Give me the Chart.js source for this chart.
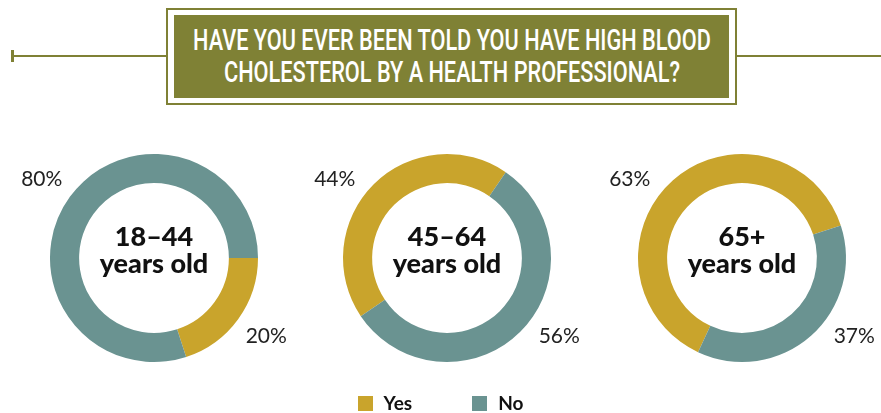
<!DOCTYPE html>
<html>
<head>
<meta charset="utf-8">
<script src="https://cdn.jsdelivr.net/npm/chart.js@4.4.1/dist/chart.umd.min.js"></script>
<style>
  html, body { margin: 0; padding: 0; background: #fff; }
  #page { position: relative; width: 881px; height: 413px; overflow: hidden; font-family: Lato, sans-serif; }
  .rule { position: absolute; top: 55px; height: 2px; background: #7f8135; }
  .tick { position: absolute; left: 11px; top: 50px; width: 3px; height: 12px; background: #7f8135; }
  #titleBox { position: absolute; left: 166px; top: 8px; width: 567px; height: 93px; border: 2px solid #7f8135; background: #fff; }
  #titleInner { position: absolute; left: 6px; top: 5px; right: 6px; bottom: 5px; background: #7f8135; }
  .tline { position: absolute; left: 50%; white-space: nowrap; color: #fff;
    font-family: Roboto, "Liberation Sans", sans-serif; font-weight: 500; font-size: 29px; line-height: 29px; transform-origin: 0 0; }
  .donut { position: absolute; top: 123px; }
  #legend { position: absolute; top: 391px; left: 0; width: 881px; text-align: center; font-size: 19px; color: #111; font-weight: 700; }
  #legend span.item { display: inline-block; margin: 0 30px; }
  #legend span.sw { display: inline-block; width: 15px; height: 15px; vertical-align: -1px; margin-right: 11px; }
</style>
</head>
<body>
<div id="page">
  <div class="rule" style="left:12px;width:156px"></div>
  <div class="tick"></div>
  <div class="rule" style="left:735px;width:146px"></div>
  <div id="titleBox"><div id="titleInner"></div></div>
  <canvas id="c0" class="donut" style="left:7px"></canvas>
  <canvas id="c1" class="donut" style="left:300px"></canvas>
  <canvas id="c2" class="donut" style="left:595px"></canvas>
  <div id="legend"></div>
</div>
<script>
// ---- data ----
const titleLines = ['HAVE YOU EVER BEEN TOLD YOU HAVE HIGH BLOOD', 'CHOLESTEROL BY A HEALTH PROFESSIONAL?'];
const categories = ['Yes', 'No'];
const colors = ['#c9a42c', '#6a9391'];
const groupLabels = [['18–44', 'years old'], ['45–64', 'years old'], ['65+', 'years old']];
const yesValues = [20, 44, 63];
const noValues = [80, 56, 37];
// angle (degrees clockwise from 12 o'clock) where the "Yes" slice starts
const startAngles = [90, 236, 205];

// angles where the percentage labels sit (top-left and bottom-right)
const LABEL_ANGLES = [305, 125];
const LABEL_DIST = 137;

// title: condensed look by squeezing a regular sans horizontally
const inner = document.getElementById('titleInner');
const tEls = titleLines.map((t, i) => {
  const el = document.createElement('div');
  el.className = 'tline';
  el.textContent = t;
  el.style.top = (i === 0 ? 11 : 43) + 'px';
  inner.appendChild(el);
  return el;
});
const squeeze = 518 / tEls[0].offsetWidth;
tEls.forEach(el => { el.style.transform = 'scaleX(' + squeeze + ') translateX(-50%)'; });

function norm(a) { a = a % 360; return a < 0 ? a + 360 : a; }

const donutText = {
  id: 'donutText',
  afterDraw(chart, args, opts) {
    const { ctx } = chart;
    const meta = chart.getDatasetMeta(0);
    const arc0 = meta.data[0];
    const cx = arc0.x, cy = arc0.y;

    // centre label
    ctx.save();
    ctx.fillStyle = '#111';
    ctx.textAlign = 'center';
    ctx.textBaseline = 'alphabetic';
    ctx.font = '900 27px Lato, sans-serif';
    ctx.fillText(opts.lines[0], cx, cy - 12);
    ctx.fillText(opts.lines[1], cx, cy + 15);

    // percentage labels, taken from whichever slice covers the label angle
    ctx.font = '400 21px Lato, sans-serif';
    ctx.fillStyle = '#222';
    ctx.textBaseline = 'middle';
    LABEL_ANGLES.forEach(deg => {
      meta.data.forEach((arc, i) => {
        const s = norm(arc.startAngle * 180 / Math.PI + 90);
        const span = (arc.endAngle - arc.startAngle) * 180 / Math.PI;
        const d = norm(deg - s);
        if (d < span) {
          const r = deg * Math.PI / 180;
          const v = chart.data.datasets[0].data[i];
          ctx.fillText(v + '%', cx + Math.sin(r) * LABEL_DIST, cy - Math.cos(r) * LABEL_DIST);
        }
      });
    });
    ctx.restore();
  }
};

yesValues.forEach((y, k) => {
  const canvas = document.getElementById('c' + k);
  canvas.width = 294;
  canvas.height = 270;
  new Chart(canvas, {
    type: 'doughnut',
    data: {
      labels: categories,
      datasets: [{
        data: [y, noValues[k]],
        backgroundColor: colors,
        borderWidth: 0
      }]
    },
    options: {
      responsive: false,
      animation: false,
      rotation: startAngles[k],
      cutout: '72%',
      layout: { padding: { left: 43, right: 43, top: 31, bottom: 31 } },
      plugins: {
        legend: { display: false },
        tooltip: { enabled: false },
        donutText: { lines: groupLabels[k] }
      }
    },
    plugins: [donutText]
  });
});

// legend
const legend = document.getElementById('legend');
categories.forEach((c, i) => {
  const item = document.createElement('span');
  item.className = 'item';
  item.innerHTML = '<span class="sw" style="background:' + colors[i] + '"></span>' + c;
  legend.appendChild(item);
});
</script>
</body>
</html>
